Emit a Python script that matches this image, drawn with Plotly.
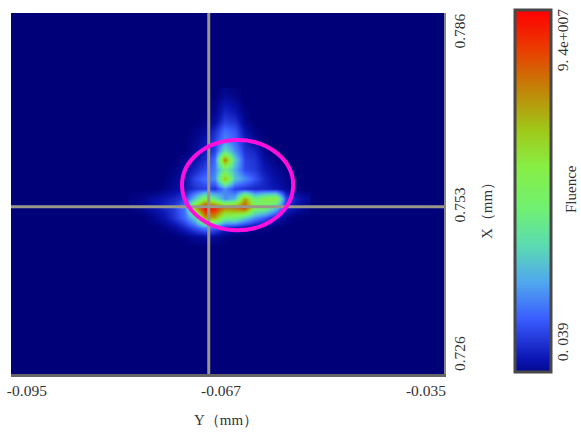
import plotly.graph_objects as go

# Fluence map, in units of 1e7
Y_MM = [-0.0780, -0.0766, -0.0752, -0.0738, -0.0724, -0.0710, -0.0696, -0.0682, -0.0668,
        -0.0654, -0.0640, -0.0626, -0.0612, -0.0598, -0.0584, -0.0570, -0.0556, -0.0542]
X_MM = [0.7728, 0.7712, 0.7696, 0.7680, 0.7664, 0.7648, 0.7632, 0.7616, 0.7600,
        0.7584, 0.7568, 0.7552, 0.7536, 0.7520, 0.7504, 0.7488, 0.7472]
FLUENCE = [
    [0, 0, 0, 0, 0, 0, 0, 0, 0, .2, .1, 0, 0, 0, 0, 0, 0, 0],
    [0, 0, 0, 0, 0, 0, 0, 0, .1, .5, .3, 0, 0, 0, 0, 0, 0, 0],
    [0, 0, 0, 0, 0, 0, 0, 0, .2, .8, .6, .1, 0, 0, 0, 0, 0, 0],
    [0, 0, 0, 0, 0, 0, 0, .1, .4, 1.2, 1.0, .2, 0, 0, 0, 0, 0, 0],
    [0, 0, 0, 0, 0, 0, .1, .3, .9, 1.8, 1.5, .5, .1, 0, 0, 0, 0, 0],
    [0, 0, 0, 0, 0, 0, .2, .5, 1.2, 2.2, 1.7, .8, .3, 0, 0, 0, 0, 0],
    [0, 0, 0, 0, 0, 0, .3, .7, 1.2, 3.6, 2.2, 1.0, .8, .2, 0, 0, 0, 0],
    [0, 0, 0, 0, 0, .2, .5, .9, 1.8, 7.6, 3.2, 1.2, 1.0, .4, .1, 0, 0, 0],
    [0, 0, 0, 0, .1, .4, .8, 1.3, 2.0, 4.2, 2.6, 1.3, 1.1, .6, .3, .1, 0, 0],
    [0, 0, 0, 0, .2, .5, 1.3, 1.8, 2.2, 6.5, 3.0, 2.2, 1.5, .8, .4, .2, 0, 0],
    [0, 0, 0, .1, .3, .6, 1.0, 1.2, 1.0, 2.2, 1.2, 1.0, .8, .8, .6, .3, .1, 0],
    [.1, .2, .4, .6, .8, 1.2, 3.0, 5.2, 4.0, 2.2, 2.8, 7.0, 4.2, 5.2, 5.6, 1.3, .7, .3],
    [.1, .3, .5, .8, 1.1, 2.0, 6.5, 9.4, 9.0, 7.4, 7.6, 8.4, 5.0, 4.6, 3.0, .8, .5, .2],
    [0, 0, .2, .5, 1.0, 1.8, 3.2, 7.0, 6.8, 4.4, 4.4, 3.2, 2.2, 1.5, .6, .2, 0, 0],
    [0, 0, 0, .1, .3, .8, 1.4, 2.0, 1.6, .8, .6, .4, .2, .1, 0, 0, 0, 0],
    [0, 0, 0, 0, 0, .1, .3, .4, .3, .1, 0, 0, 0, 0, 0, 0, 0, 0],
    [0, 0, 0, 0, 0, 0, 0, 0, 0, 0, 0, 0, 0, 0, 0, 0, 0, 0],
]
CBAR_LEVELS = [0, .47, .94, 1.41, 1.88, 2.35, 2.82, 3.29, 3.76, 4.23, 4.7,
               5.17, 5.64, 6.11, 6.58, 7.05, 7.52, 7.99, 8.46, 8.93, 9.4]
CBAR_COLS = [0, 1]
Y_TICK_POS = [-0.0928, -0.0659, -0.0375]
Y_TICK_TEXT = ["-0.095", "-0.067", "-0.035"]
X_TICK_POS = [0.7826, 0.7537, 0.7290]
X_TICK_TEXT = ["0.786", "0.753", "0.726"]
CBAR_TICK_POS = [0.95, 8.58]
CBAR_TICK_TEXT = ["0. 039", "9. 4e+007"]
CROSS_Y = -0.0676
CROSS_X = 0.7538
ELLIPSE_Y = [-0.0713, -0.0559]
ELLIPSE_X = [0.7499, 0.7649]

SERIF = "Liberation Serif"
TEXT = "#333333"
BG = "#000078"
SCALE = [[0, BG], [0.06, "#0a14b0"], [0.17, "#3a5cff"], [0.27, "#50a8ee"], [0.37, "#5cdcb0"],
         [0.47, "#70f070"], [0.58, "#88ee44"], [0.68, "#a0c818"], [0.78, "#c08808"],
         [0.89, "#e84000"], [1, "#ff0000"]]

W, H = 581, 432
ML, MR, MT, MB = 11, 30, 10, 58
PW, PH = W - ML - MR, H - MT - MB


def px(v):
    return (v - ML) / PW


def py(v):
    return (H - MB - v) / PH


fig = go.Figure()
fig.add_trace(go.Heatmap(x=Y_MM, y=X_MM, z=FLUENCE, zmin=0, zmax=9.4, zsmooth="best",
                         colorscale=SCALE, showscale=False, hoverinfo="skip"))
fig.add_trace(go.Heatmap(x=CBAR_COLS, y=CBAR_LEVELS, z=[[v, v] for v in CBAR_LEVELS],
                         zmin=0, zmax=9.4, zsmooth="best", colorscale=SCALE, showscale=False,
                         hoverinfo="skip", xaxis="x2", yaxis="y2"))

fig.add_shape(type="line", x0=CROSS_Y, x1=CROSS_Y, y0=0, y1=1, xref="x", yref="y domain",
              line=dict(color="#99968a", width=3))
fig.add_shape(type="line", y0=CROSS_X, y1=CROSS_X, x0=0, x1=1, xref="x domain", yref="y",
              line=dict(color="#99968a", width=3))
fig.add_shape(type="circle", x0=ELLIPSE_Y[0], x1=ELLIPSE_Y[1], y0=ELLIPSE_X[0], y1=ELLIPSE_X[1],
              xref="x", yref="y", line=dict(color="#ff10dc", width=4))
fig.add_shape(type="rect", x0=0, x1=1, y0=0, y1=1, xref="x2 domain", yref="y2 domain",
              line=dict(color="#484848", width=3))

tick_font = dict(family=SERIF, size=15.5, color=TEXT)
title_font = dict(family=SERIF, size=15, color=TEXT)
fig.update_layout(
    width=W, height=H, autosize=False,
    margin=dict(l=ML, r=MR, t=MT, b=MB, pad=0),
    paper_bgcolor="white", plot_bgcolor=BG, showlegend=False,
    xaxis=dict(domain=[0, px(444)], range=[-0.095, -0.035], tickmode="array",
               tickvals=Y_TICK_POS, ticktext=Y_TICK_TEXT, ticks="", showgrid=False,
               zeroline=False, showline=True, linecolor="#666666", linewidth=3,
               tickfont=tick_font, automargin=False, anchor="y"),
    yaxis=dict(domain=[0, py(13)], range=[0.726, 0.786], side="right", tickmode="array",
               tickvals=X_TICK_POS, ticktext=X_TICK_TEXT, tickangle=-90, ticks="",
               showgrid=False, zeroline=False, showline=True, linecolor="#888888", linewidth=2,
               tickfont=tick_font, automargin=False, anchor="x"),
    xaxis2=dict(domain=[px(515), px(551)], range=[0, 1], visible=False, anchor="y2"),
    yaxis2=dict(domain=[py(372), py(10)], range=[0.25, 9.4], side="right", tickmode="array",
                tickvals=CBAR_TICK_POS, ticktext=CBAR_TICK_TEXT, tickangle=-90, ticks="",
                showgrid=False, zeroline=False, showline=False, tickfont=tick_font,
                automargin=False, anchor="x2"),
    annotations=[
        dict(text="Y\uff08mm\uff09", xref="paper", yref="paper", x=px(226), y=py(420),
             showarrow=False, xanchor="center", yanchor="middle", font=title_font),
        dict(text="X\uff08mm\uff09", xref="paper", yref="paper", x=px(487), y=py(207),
             showarrow=False, textangle=-90, xanchor="center", yanchor="middle", font=title_font),
        dict(text="Fluence", xref="paper", yref="paper", x=px(571), y=py(189),
             showarrow=False, textangle=-90, xanchor="center", yanchor="middle", font=title_font),
    ],
)
fig.write_html("out.html", post_script="document.body.style.margin='0';document.body.style.overflow='hidden';",
               config={"displayModeBar": False})
